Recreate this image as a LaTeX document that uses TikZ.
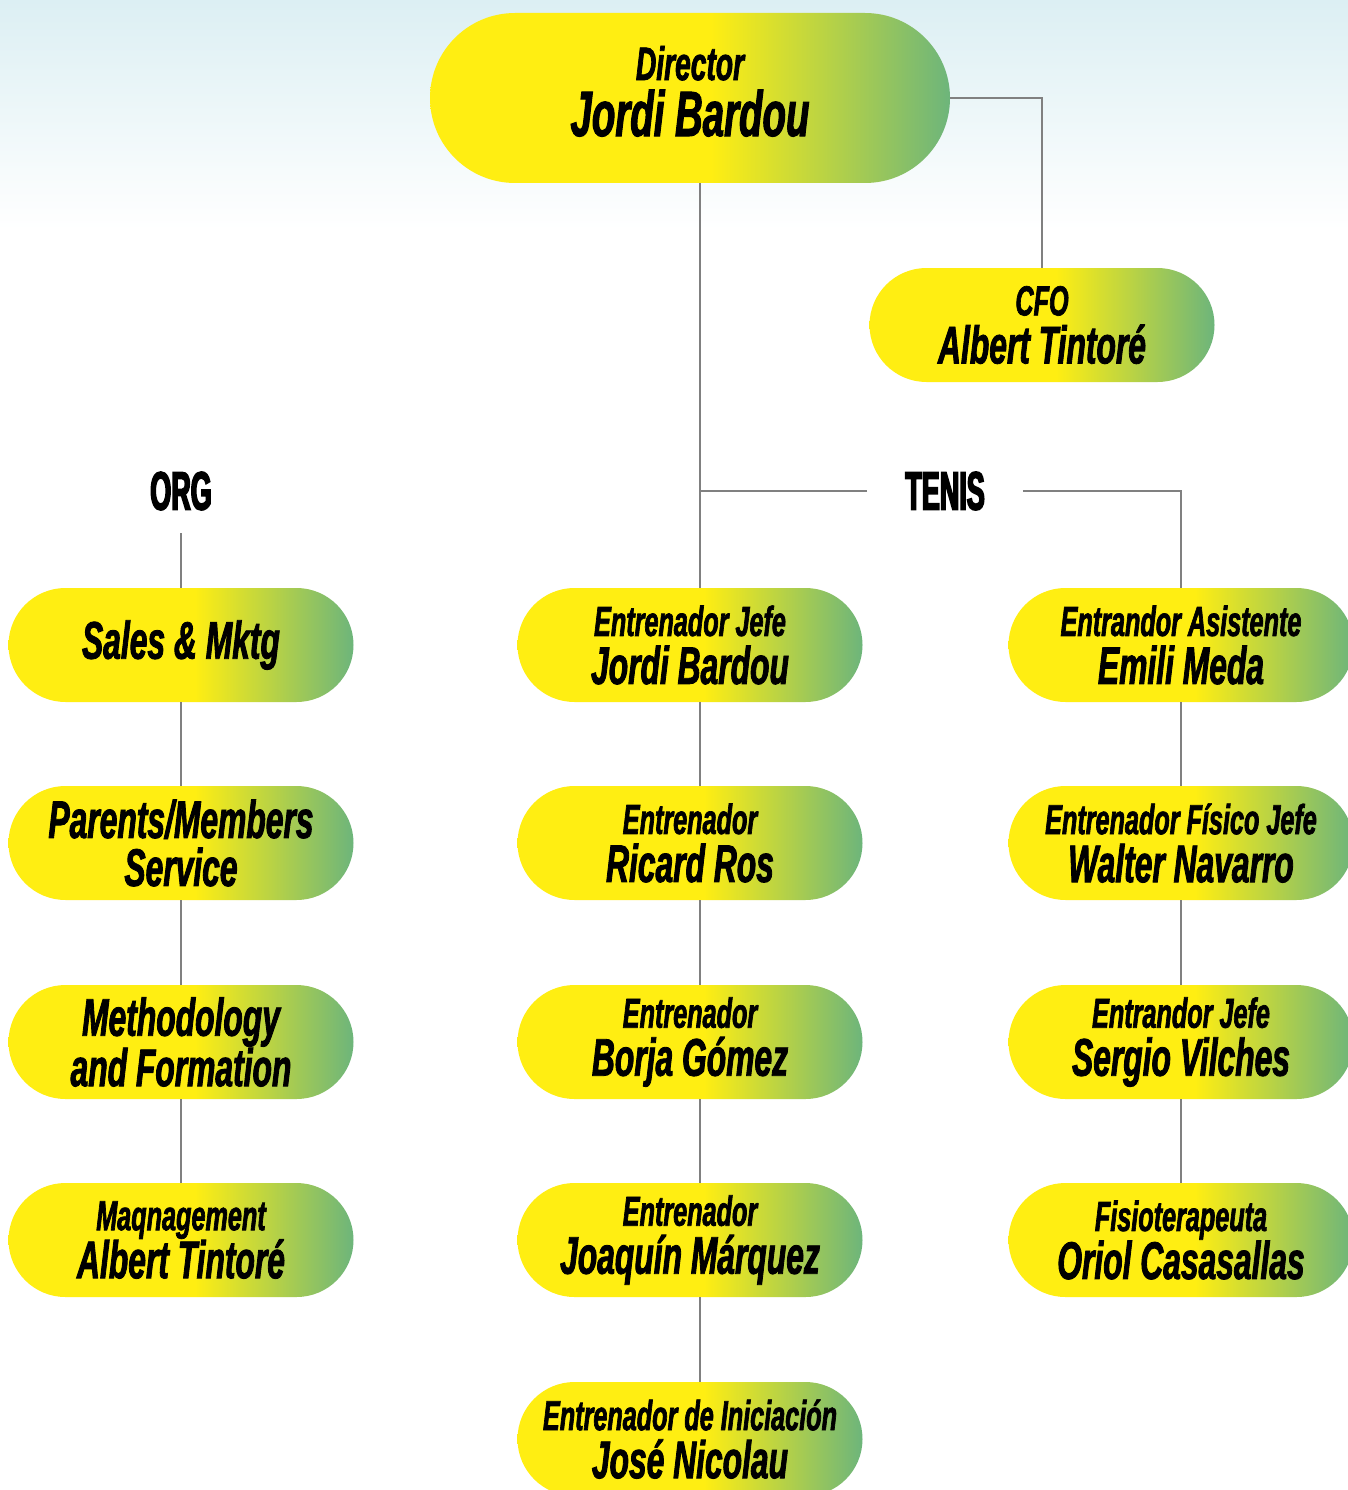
\documentclass[tikz,border=0pt]{standalone}
\usepackage{fontspec}
\newfontfamily\pillfont[FakeStretch=0.6,BoldItalicFeatures={FakeBold=1.6}]{Liberation Sans}
\newfontfamily\headfont[FakeStretch=0.5,BoldFeatures={FakeBold=3}]{Liberation Sans}
\definecolor{pillyellow}{HTML}{FFEE12}
\definecolor{pillgreen}{HTML}{6DB57B}
\definecolor{linegray}{HTML}{808080}
\definecolor{skytop}{HTML}{DCEFF3}
\pgfdeclarehorizontalshading{pillshade}{100bp}{color(0bp)=(pillyellow); color(25bp)=(pillyellow); color(52bp)=(pillyellow); color(75bp)=(pillgreen); color(100bp)=(pillgreen)}
\newcommand\pilltitle[1]{{\fontsize{42}{48}\selectfont #1}}

\begin{document}
\begin{tikzpicture}[x=1pt,y=-1pt,
  pill/.style={shade,shading=pillshade,rounded corners=57pt,minimum width=345pt,minimum height=114pt,inner sep=0pt,align=center,font=\pillfont\bfseries\itshape\fontsize{53}{48}\selectfont},
  bigpill/.style={pill,rounded corners=85pt,minimum width=520pt,minimum height=170pt,text depth=14pt,font=\pillfont\bfseries\itshape\fontsize{64}{56}\selectfont},
  head/.style={inner xsep=38pt,inner ysep=23pt,font=\headfont\bfseries\fontsize{54}{54}\selectfont},
  link/.style={draw=linegray,line width=2.5pt}]
\useasboundingbox (0,0) rectangle (1348,1490);
\clip (0,0) rectangle (1348,1490);
\fill[white] (0,0) rectangle (1348,1490);
\shade[top color=skytop,bottom color=white] (0,0) rectangle (1348,230);
\coordinate (trunk) at (700,0);
\node[bigpill] (dir) at (690,98) {{\fontsize{47}{56}\selectfont Director}\\Jordi Bardou};
\node[pill] (cfo) at (1042,325) {\pilltitle{CFO}\\Albert Tintoré};
\node[head] (org) at (181,491) {ORG};
\node[head] (tenis) at (945,491) {TENIS};
\node[pill] (sm) at (181,645) {Sales \& Mktg};
\node[pill] (pm) at (181,843) {Parents/Members\\Service};
\node[pill] (mf) at (181,1042) {Methodology\\and Formation};
\node[pill] (mg) at (181,1240) {\pilltitle{Maqnagement}\\Albert Tintoré};
\node[pill] (ej) at (690,645) {\pilltitle{Entrenador Jefe}\\Jordi Bardou};
\node[pill] (rr) at (690,843) {\pilltitle{Entrenador}\\Ricard Ros};
\node[pill] (bg) at (690,1042) {\pilltitle{Entrenador}\\Borja Gómez};
\node[pill] (jm) at (690,1240) {\pilltitle{Entrenador}\\Joaquín Márquez};
\node[pill] (jn) at (690,1439) {\pilltitle{Entrenador de Iniciación}\\José Nicolau};
\node[pill] (em) at (1181,645) {\pilltitle{Entrandor Asistente}\\Emili Meda};
\node[pill] (wn) at (1181,843) {\pilltitle{Entrenador Físico Jefe}\\Walter Navarro};
\node[pill] (sv) at (1181,1042) {\pilltitle{Entrandor Jefe}\\Sergio Vilches};
\node[pill] (oc) at (1181,1240) {\pilltitle{Fisioterapeuta}\\Oriol Casasallas};
\draw[link] (dir.east) -| (cfo.north);
\foreach \a/\b in {dir/ej,ej/rr,rr/bg,bg/jm,jm/jn}{\draw[link] ([xshift=10pt]\a.south) -- ([xshift=10pt]\b.north);}
\draw[link] (tenis.west) -- (tenis.west -| trunk);
\draw[link] (tenis.east) -| (em.north);
\draw[link] (org.south) -- (sm.north);
\foreach \a/\b in {sm/pm,pm/mf,mf/mg,em/wn,wn/sv,sv/oc}{\draw[link] (\a.south) -- (\b.north);}
\end{tikzpicture}
\end{document}
